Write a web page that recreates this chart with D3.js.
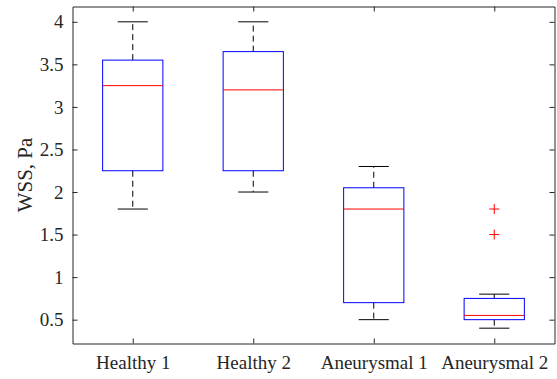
<!DOCTYPE html>
<html>
<head>
<meta charset="utf-8">
<script src="https://cdn.jsdelivr.net/npm/d3@7"></script>
<style>
  body { margin: 0; background: #fff; }
  svg { display: block; }
</style>
</head>
<body>
<div id="chart"></div>
<script>
// Box statistics, one entry per group
const categories = ["Healthy 1", "Healthy 2", "Aneurysmal 1", "Aneurysmal 2"]
const whiskerLow = [1.8, 2.0, 0.5, 0.4]
const q1 = [2.25, 2.25, 0.7, 0.5]
const median = [3.25, 3.2, 1.8, 0.55]
const q3 = [3.55, 3.65, 2.05, 0.75]
const whiskerHigh = [4, 4, 2.3, 0.8]
const outliers = [[], [], [], [1.5, 1.8]]
const yTicks = [0.5, 1, 1.5, 2, 2.5, 3, 3.5, 4]

const width = 557, height = 379
// plot area edges (window.top is taken, so prefix them)
const pLeft = 72.5, pRight = 554.5, pTop = 6.5, pBottom = 343.5
const axisColor = "#262626"
const serif = "Liberation Serif"

let svg = d3.select("#chart")
  .append("svg")
  .attr("width", width)
  .attr("height", height)

// Positions 1..4, MATLAB style
let x = d3.scaleLinear().domain([0.5, categories.length + 0.5]).range([pLeft, pRight])
let y = d3.scaleLinear().domain([0.22, 4.18]).range([pBottom, pTop])

let boxes = categories.map(function (c, i) {
  return {pos: i + 1, lo: whiskerLow[i], q1: q1[i], med: median[i], q3: q3[i], hi: whiskerHigh[i], out: outliers[i]}
})

let halfBox = 0.25, halfCap = 0.125

let g = svg.append("g")

// Dashed whiskers
boxes.forEach(function (b) {
  g.append("line")
    .attr("x1", x(b.pos)).attr("x2", x(b.pos))
    .attr("y1", y(b.q3)).attr("y2", y(b.hi))
    .attr("stroke", "#000").attr("stroke-dasharray", "6,4")
  g.append("line")
    .attr("x1", x(b.pos)).attr("x2", x(b.pos))
    .attr("y1", y(b.q1)).attr("y2", y(b.lo))
    .attr("stroke", "#000").attr("stroke-dasharray", "6,4")
  // caps
  ;[b.hi, b.lo].forEach(function (v) {
    g.append("line")
      .attr("x1", x(b.pos - halfCap)).attr("x2", x(b.pos + halfCap))
      .attr("y1", y(v)).attr("y2", y(v))
      .attr("stroke", "#000")
  })
})

// Boxes
g.selectAll("rect.box")
  .data(boxes)
  .enter()
  .append("rect")
  .attr("class", "box")
  .attr("x", function (b) { return x(b.pos - halfBox) })
  .attr("width", function (b) { return x(b.pos + halfBox) - x(b.pos - halfBox) })
  .attr("y", function (b) { return y(b.q3) })
  .attr("height", function (b) { return y(b.q1) - y(b.q3) })
  .attr("fill", "none")
  .attr("stroke", "#0000ff")

// Medians
g.selectAll("line.median")
  .data(boxes)
  .enter()
  .append("line")
  .attr("class", "median")
  .attr("x1", function (b) { return x(b.pos - halfBox) })
  .attr("x2", function (b) { return x(b.pos + halfBox) })
  .attr("y1", function (b) { return y(b.med) })
  .attr("y2", function (b) { return y(b.med) })
  .attr("stroke", "#ff0000")

// Outliers as red plus signs
boxes.forEach(function (b) {
  b.out.forEach(function (v) {
    g.append("path")
      .attr("d", "M" + (x(b.pos) - 5) + "," + y(v) + "h10M" + x(b.pos) + "," + (y(v) - 5) + "v10")
      .attr("stroke", "#ff0000")
      .attr("fill", "none")
  })
})

// Axes, ticks pointing inward
let fmt = d3.format("~g")

let yAxis = svg.append("g")
  .attr("transform", "translate(" + pLeft + ",0)")
  .call(d3.axisLeft(y).tickValues(yTicks).tickFormat(fmt).tickSizeInner(-5).tickSizeOuter(0).tickPadding(9))
let yAxisR = svg.append("g")
  .attr("transform", "translate(" + pRight + ",0)")
  .call(d3.axisRight(y).tickValues(yTicks).tickFormat("").tickSizeInner(-5).tickSizeOuter(0))
let xAxis = svg.append("g")
  .attr("transform", "translate(0," + pBottom + ")")
  .call(d3.axisBottom(x).tickValues(boxes.map(function (b) { return b.pos }))
    .tickFormat(function (d, i) { return categories[i] })
    .tickSizeInner(-5).tickSizeOuter(0).tickPadding(12))
let xAxisT = svg.append("g")
  .attr("transform", "translate(0," + pTop + ")")
  .call(d3.axisTop(x).tickValues(boxes.map(function (b) { return b.pos })).tickFormat("").tickSizeInner(-5).tickSizeOuter(0))

;[yAxis, yAxisR, xAxis, xAxisT].forEach(function (a) {
  a.attr("font-family", serif).attr("font-size", 19)
  a.select(".domain").attr("stroke", axisColor)
  a.selectAll(".tick line").attr("stroke", axisColor)
  a.selectAll(".tick text").attr("fill", axisColor)
})

svg.append("text")
  .attr("transform", "translate(32," + ((pTop + pBottom) / 2) + ") rotate(-90)")
  .attr("text-anchor", "middle")
  .attr("fill", axisColor)
  .attr("font-family", serif)
  .attr("font-size", 21)
  .text("WSS, Pa")
</script>
</body>
</html>
